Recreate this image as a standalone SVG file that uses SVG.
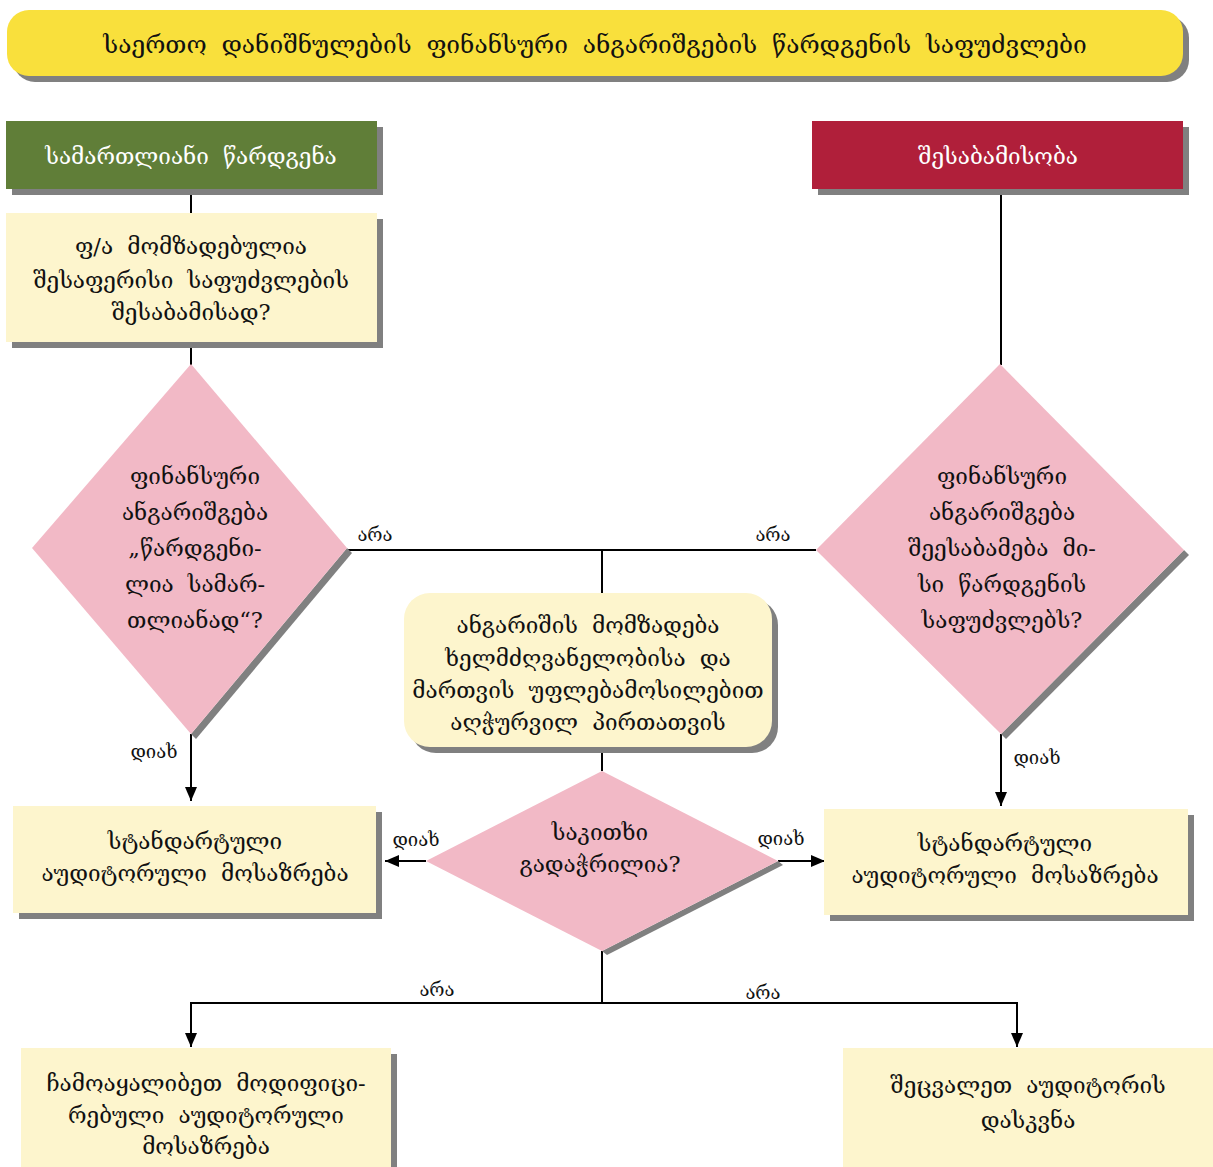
<svg xmlns="http://www.w3.org/2000/svg" width="1213" height="1167" viewBox="0 0 1213 1167">
  <style>
    .t { font-family: "DejaVu Serif", "DejaVu Sans", serif; font-size: 22.5px; fill: #111; text-anchor: middle; word-spacing: 7px; }
    .w { fill: #ffffff; font-size: 22.5px; }
    .lbl { font-family: "DejaVu Serif", "DejaVu Sans", serif; font-size: 18.5px; fill: #111; text-anchor: middle; }
    .sh { fill: #808080; }
    .box { fill: #fdf5cd; }
    .dia { fill: #f2b9c6; }
    .ln { stroke: #000; stroke-width: 2; fill: none; }
  </style>
  <defs>
    <marker id="arr" viewBox="0 0 14 12" refX="14" refY="6" markerWidth="14" markerHeight="12" markerUnits="userSpaceOnUse" orient="auto">
      <path d="M0,0 L14,6 L0,12 Z" fill="#000"/>
    </marker>
  </defs>
  <rect width="1213" height="1167" fill="#fff"/>

  <!-- connectors -->
  <g id="connectors">
    <line class="ln" x1="191" y1="189" x2="191" y2="213"/>
    <line class="ln" x1="191" y1="348" x2="191" y2="365"/>
    <line class="ln" x1="191" y1="734" x2="191" y2="801" marker-end="url(#arr)"/>
    <line class="ln" x1="1001" y1="195" x2="1001" y2="365"/>
    <line class="ln" x1="1001" y1="734" x2="1001" y2="806" marker-end="url(#arr)"/>
    <line class="ln" x1="347" y1="550" x2="816" y2="550"/>
    <line class="ln" x1="602" y1="550" x2="602" y2="593"/>
    <line class="ln" x1="602" y1="750" x2="602" y2="771"/>
    <line class="ln" x1="426" y1="861" x2="385" y2="861" marker-end="url(#arr)"/>
    <line class="ln" x1="778" y1="861" x2="825" y2="861" marker-end="url(#arr)"/>
    <line class="ln" x1="602" y1="951" x2="602" y2="1003"/>
    <polyline class="ln" points="191,1030 191,1003 1017,1003 1017,1030" stroke-width="2.5"/>
    <line class="ln" x1="191" y1="1003" x2="191" y2="1047" marker-end="url(#arr)"/>
    <line class="ln" x1="1017" y1="1003" x2="1017" y2="1047" marker-end="url(#arr)"/>
    <text class="lbl" x="375" y="541">არა</text>
    <text class="lbl" x="773" y="541">არა</text>
    <text class="lbl" x="154" y="758">დიახ</text>
    <text class="lbl" x="1037" y="764">დიახ</text>
    <text class="lbl" x="416" y="846">დიახ</text>
    <text class="lbl" x="781" y="845">დიახ</text>
    <text class="lbl" x="437" y="996">არა</text>
    <text class="lbl" x="763" y="999">არა</text>
  </g>

  <g id="title">
    <rect class="sh" x="13" y="16" width="1176" height="66" rx="22"/>
    <rect x="7" y="10" width="1176" height="66" rx="22" fill="#f9e03c"/>
    <text class="t" x="595" y="53" style="font-size:24.5px">საერთო დანიშნულების ფინანსური ანგარიშგების წარდგენის საფუძვლები</text>
  </g>

  <g id="fair">
    <rect class="sh" x="12" y="127" width="371" height="68"/>
    <rect x="6" y="121" width="371" height="68" fill="#607e38"/>
    <text class="t w" x="191" y="164">სამართლიანი წარდგენა</text>
  </g>

  <g id="compliance">
    <rect class="sh" x="818" y="127" width="371" height="68"/>
    <rect x="812" y="121" width="371" height="68" fill="#b01f3a"/>
    <text class="t w" x="998" y="164">შესაბამისობა</text>
  </g>

  <g id="prepared">
    <rect class="sh" x="12" y="219" width="371" height="129"/>
    <rect class="box" x="6" y="213" width="371" height="129"/>
    <text class="t" x="191" y="254">ფ/ა მომზადებულია</text>
    <text class="t" x="191" y="288">შესაფერისი საფუძვლების</text>
    <text class="t" x="191" y="320">შესაბამისად?</text>
  </g>

  <g id="fairq">
    <polygon class="sh" points="352,553 196,739 191,734 347,548"/>
    <polygon class="dia" points="191,364 347,548 191,734 32,548"/>
    <text class="t" x="195" y="484">ფინანსური</text>
    <text class="t" x="195" y="520">ანგარიშგება</text>
    <text class="t" x="195" y="556">„წარდგენი-</text>
    <text class="t" x="195" y="592">ლია სამარ-</text>
    <text class="t" x="195" y="628">თლიანად“?</text>
  </g>

  <g id="complyq">
    <polygon class="sh" points="1189,555 1006,739 1001,734 1184,550"/>
    <polygon class="dia" points="1000,364 1184,550 1001,734 816,550"/>
    <text class="t" x="1002" y="484">ფინანსური</text>
    <text class="t" x="1002" y="520">ანგარიშგება</text>
    <text class="t" x="1002" y="556">შეესაბამება მი-</text>
    <text class="t" x="1002" y="592">სი წარდგენის</text>
    <text class="t" x="1002" y="628">საფუძვლებს?</text>
  </g>

  <g id="framework">
    <rect class="sh" x="410" y="599" width="368" height="154" rx="26"/>
    <rect class="box" x="404" y="593" width="368" height="154" rx="26"/>
    <text class="t" x="588" y="633">ანგარიშის მომზადება</text>
    <text class="t" x="588" y="666">ხელმძღვანელობისა და</text>
    <text class="t" x="588" y="698">მართვის უფლებამოსილებით</text>
    <text class="t" x="588" y="730">აღჭურვილ პირთათვის</text>
  </g>

  <g id="misleadq">
    <polygon class="sh" points="783,865 607,955 602,951 778,861"/>
    <polygon class="dia" points="602,771 778,861 602,951 426,861"/>
    <text class="t" x="600" y="840">საკითხი</text>
    <text class="t" x="600" y="872">გადაჭრილია?</text>
  </g>

  <g id="std-left">
    <rect class="sh" x="19" y="812" width="363" height="107"/>
    <rect class="box" x="13" y="806" width="363" height="107"/>
    <text class="t" x="195" y="849">სტანდარტული</text>
    <text class="t" x="195" y="881">აუდიტორული მოსაზრება</text>
  </g>

  <g id="std-right">
    <rect class="sh" x="830" y="815" width="364" height="106"/>
    <rect class="box" x="824" y="809" width="364" height="106"/>
    <text class="t" x="1005" y="851">სტანდარტული</text>
    <text class="t" x="1005" y="883">აუდიტორული მოსაზრება</text>
  </g>

  <g id="modified">
    <rect class="sh" x="27" y="1054" width="370" height="113"/>
    <rect class="box" x="21" y="1048" width="370" height="119"/>
    <text class="t" x="206" y="1091">ჩამოაყალიბეთ მოდიფიცი-</text>
    <text class="t" x="206" y="1123">რებული აუდიტორული</text>
    <text class="t" x="206" y="1154">მოსაზრება</text>
  </g>

  <g id="change">
    <rect class="box" x="843" y="1048" width="370" height="119"/>
    <text class="t" x="1028" y="1093">შეცვალეთ აუდიტორის</text>
    <text class="t" x="1028" y="1128">დასკვნა</text>
  </g>
</svg>
